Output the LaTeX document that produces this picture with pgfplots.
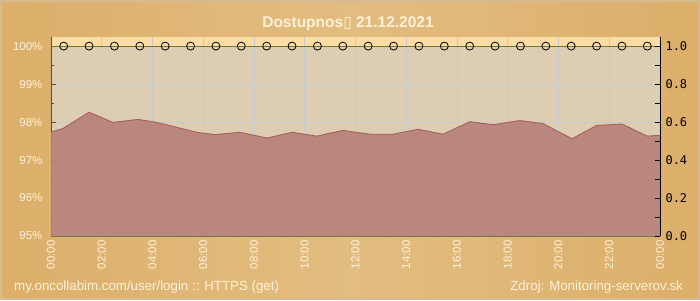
\documentclass[border=0pt]{standalone}
\usepackage{pgfplots}
\pgfplotsset{compat=1.18}
\usepackage{fontspec}
\setmainfont{Liberation Sans}
\newfontfamily\dejavu{DejaVu Sans}
\newfontfamily\monofont{DejaVu Sans Mono}
\definecolor{framec}{HTML}{D6BA92}
\definecolor{bgA}{HTML}{DCAF6A}
\definecolor{bgB}{HTML}{E2BD80}
\definecolor{plotbg}{HTML}{DDCEB3}
\definecolor{bandc}{HTML}{FFDCA5}
\definecolor{areac}{HTML}{B8827A}
\definecolor{edgec}{HTML}{A85E5A}
\definecolor{gridc}{HTML}{C6CAD2}
\definecolor{creamc}{HTML}{FFF1D8}
\definecolor{olivec}{HTML}{6A7A3A}
\definecolor{brownc}{HTML}{6B4A1E}
\begin{document}
\begin{tikzpicture}
\useasboundingbox (0,0) rectangle (700pt,300pt);
\fill[framec] (0,0) rectangle (700pt,300pt);
\shade[left color=bgA, right color=bgA, middle color=bgB] (2.5pt,2.5pt) rectangle (697.5pt,297.5pt);
\fill[plotbg] (51pt,64pt) rectangle (660pt,254pt);
\fill[bandc] (51pt,254pt) rectangle (660pt,263pt);
\node[anchor=base, text=creamc, font=\fontsize{15.5}{18}\selectfont\bfseries, inner sep=0pt] at (348pt,272.5pt) {Dostupnos{\dejavu\mdseries ▯} 21.12.2021};
\begin{axis}[
  at={(51pt,64pt)}, anchor=south west,
  scale only axis, width=609pt, height=199pt,
  xmin=0, xmax=24, ymin=95, ymax=100.24,
  axis x line*=bottom, axis y line*=left,
  x axis line style={olivec, line width=0.9pt},
  y axis line style={brownc, line width=0.9pt},
  tick align=inside,
  major tick length=5pt, minor tick length=3pt,
  xtick={0,2,...,24},
  xticklabels={00:00,02:00,04:00,06:00,08:00,10:00,12:00,14:00,16:00,18:00,20:00,22:00,00:00},
  minor x tick num=3,
  ytick={95,96,97,98,99,100},
  yticklabels={95\%,96\%,97\%,98\%,99\%,100\%},
  minor y tick num=1,
  xtick style={olivec, line width=0.7pt},
  ytick style={brownc, line width=0.7pt},
  xmajorgrids, ymajorgrids,
  major grid style={gridc, line width=0.9pt},
  xticklabel style={rotate=90, anchor=east, text=creamc, font=\fontsize{11.5}{12}\selectfont, xshift=-1pt},
  yticklabel style={text=creamc, font=\fontsize{11.5}{12}\selectfont, xshift=-5pt},
]
\addplot[fill=areac, fill opacity=0.92, draw=none] coordinates {
(0,95) (0,97.74) (0.47,97.83) (1.5,98.26) (2.44,97.99) (3.43,98.07) (4.0,98.01) (4.37,97.96)
(5.75,97.73) (6.46,97.67) (7.45,97.73) (8.51,97.58) (9.5,97.73) (10.48,97.63) (11.5,97.78)
(12.57,97.68) (13.48,97.68) (14.46,97.81) (15.45,97.68) (16.51,98.01) (17.42,97.93) (18.48,98.04)
(19.39,97.96) (20.53,97.56) (21.5,97.91) (22.5,97.95) (23.49,97.63) (24,97.65) (24,95)
} -- cycle;
\addplot[edgec, line width=0.9pt] coordinates {
(0,97.74) (0.47,97.83) (1.5,98.26) (2.44,97.99) (3.43,98.07) (4.0,98.01) (4.37,97.96)
(5.75,97.73) (6.46,97.67) (7.45,97.73) (8.51,97.58) (9.5,97.73) (10.48,97.63) (11.5,97.78)
(12.57,97.68) (13.48,97.68) (14.46,97.81) (15.45,97.68) (16.51,98.01) (17.42,97.93) (18.48,98.04)
(19.39,97.96) (20.53,97.56) (21.5,97.91) (22.5,97.95) (23.49,97.63) (24,97.65)
};
\addplot[olivec, line width=1pt] coordinates {(0,100) (24,100)};
\addplot[only marks, mark=o, mark size=4pt, black, mark options={line width=0.8pt}] coordinates {
(0.5,100) (1.5,100) (2.5,100) (3.5,100) (4.5,100) (5.5,100) (6.5,100) (7.5,100)
(8.5,100) (9.5,100) (10.5,100) (11.5,100) (12.5,100) (13.5,100) (14.5,100) (15.5,100)
(16.5,100) (17.5,100) (18.5,100) (19.5,100) (20.5,100) (21.5,100) (22.5,100) (23.5,100)
};
\end{axis}
\begin{axis}[
  at={(51pt,64pt)}, anchor=south west,
  scale only axis, width=609pt, height=199pt,
  xmin=0, xmax=24, ymin=0, ymax=1.0474,
  axis x line=none, axis y line*=right,
  y axis line style={black, line width=0.9pt},
  tick align=inside,
  major tick length=5pt, minor tick length=5pt,
  ytick={0,0.2,0.4,0.6,0.8,1},
  yticklabels={0.0,0.2,0.4,0.6,0.8,1.0},
  minor y tick num=1,
  ytick style={black, line width=0.7pt},
  yticklabel style={text=black, font=\monofont\fontsize{12}{12}\selectfont, xshift=2pt},
]
\addplot[draw=none] coordinates {(0,0) (24,1)};
\end{axis}
\node[anchor=base west, text=creamc, font=\fontsize{13.3}{14}\selectfont, inner sep=0pt] at (14pt,10pt) {my.oncollabim.com/user/login :: HTTPS (get)};
\node[anchor=base east, text=creamc, font=\fontsize{13.3}{14}\selectfont, inner sep=0pt] at (683pt,10pt) {Zdroj: Monitoring-serverov.sk};
\end{tikzpicture}
\end{document}
